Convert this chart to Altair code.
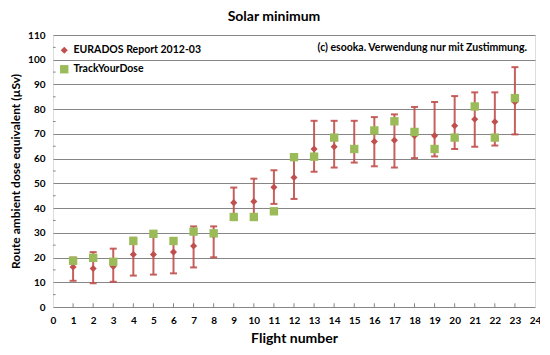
import altair as alt
import pandas as pd

flights = list(range(1, 24))
eurados = [16.2, 15.6, 16.4, 21.2, 21.2, 22.2, 24.7, 29.0, 42.2, 42.7, 48.4, 52.4,
           63.9, 64.8, 64.0, 66.9, 67.4, 69.3, 69.3, 73.3, 75.9, 74.9, 82.9]
eur_low = [10.6, 9.6, 10.2, 12.7, 13.1, 13.6, 16.0, 20.1, 35.2, 37.3, 41.7, 43.7,
           54.7, 56.4, 58.4, 56.9, 56.4, 60.2, 60.9, 63.9, 64.8, 65.3, 69.8]
eur_high = [20.0, 22.2, 23.6, 28.0, 29.5, 27.0, 32.6, 32.6, 48.3, 51.9, 55.3, 60.5,
            75.3, 75.3, 75.3, 76.8, 77.9, 80.9, 82.9, 85.3, 86.8, 86.8, 97.0]
tyd = [18.7, 19.9, 18.3, 26.7, 29.6, 26.7, 30.5, 29.8, 36.4, 36.4, 38.7, 60.6,
       60.8, 68.5, 63.9, 71.4, 75.1, 70.8, 63.9, 68.5, 81.1, 68.5, 84.5]

series_names = ["EURADOS Report 2012-03", "TrackYourDose"]
x_ticks = list(range(0, 25))
y_ticks = list(range(0, 111, 10))
y_minor = list(range(5, 110, 10))

RED = "#C0504D"
GREEN = "#9BBB59"
GRID = "#868686"
FONT = "Lato"

df = pd.DataFrame({"flight": flights, "eur": eurados, "low": eur_low,
                   "high": eur_high, "tyd": tyd})
pts = pd.DataFrame(
    [{"flight": f, "series": series_names[0], "v": e} for f, e in zip(flights, eurados)]
    + [{"flight": f, "series": series_names[1], "v": t} for f, t in zip(flights, tyd)]
)
tick_df = pd.DataFrame({"flight": x_ticks[1:-1], "y0": [0] * 23, "y1": [1.5] * 23})
ymin_df = pd.DataFrame({"y": y_minor, "x0": [0] * len(y_minor), "x1": [0.13] * len(y_minor)})

xsc = alt.Scale(domain=[0, 24], nice=False, zero=False)
ysc = alt.Scale(domain=[0, 110], nice=False)

xaxis = alt.Axis(values=x_ticks, grid=False, ticks=False, domain=False,
                 labelFont=FONT, labelFontWeight="bold", labelFontSize=10,
                 labelColor="#000", labelPadding=8, labelOverlap=False,
                 labelFlush=False,
                 title="Flight number", titleFont=FONT, titleFontSize=14,
                 titleFontWeight="bold", titleColor="#000", titlePadding=6)
yaxis = alt.Axis(values=y_ticks, grid=True, gridColor=GRID, gridWidth=1,
                 ticks=False, domain=False, labelOverlap=False, labelFlush=False,
                 labelFont=FONT, labelFontWeight="bold", labelFontSize=10,
                 labelColor="#000", labelPadding=8,
                 title="Route ambient dose equivalent (µSv)", titleFont=FONT,
                 titleFontSize=12, titleFontWeight="bold", titleColor="#000",
                 titlePadding=5)


def X(field):
    return alt.X(field, type="quantitative", scale=xsc, axis=xaxis)


def Y(field):
    return alt.Y(field, type="quantitative", scale=ysc, axis=yaxis)


xt = alt.Chart(tick_df).mark_rule(color=GRID, strokeWidth=1).encode(
    x=X("flight"), y=Y("y0"), y2="y1:Q"
)
yt = alt.Chart(ymin_df).mark_rule(color=GRID, strokeWidth=1).encode(
    y=Y("y"), x=X("x0"), x2="x1:Q"
)

bars = alt.Chart(df).mark_rule(color=RED, strokeWidth=2, opacity=0.9).encode(
    x=X("flight"), y=Y("low"), y2="high:Q"
)
cap_lo = alt.Chart(df).mark_tick(color=RED, thickness=2, size=7,
                                 orient="horizontal", opacity=0.9).encode(
    x=X("flight"), y=Y("low")
)
cap_hi = alt.Chart(df).mark_tick(color=RED, thickness=2, size=7,
                                 orient="horizontal", opacity=0.9).encode(
    x=X("flight"), y=Y("high")
)

points = alt.Chart(pts).mark_point(filled=True, opacity=1).encode(
    x=X("flight"),
    y=Y("v"),
    color=alt.Color("series:N",
                    scale=alt.Scale(domain=series_names, range=[RED, GREEN]),
                    legend=alt.Legend(title=None, orient="none", legendX=6, legendY=10,
                                      labelFont=FONT, labelFontSize=10.5,
                                      labelFontWeight="bold", labelColor="#000",
                                      rowPadding=8, symbolSize=55, labelOffset=4,
                                      symbolStrokeWidth=0)),
    shape=alt.Shape("series:N",
                    scale=alt.Scale(domain=series_names, range=["diamond", "square"])),
    size=alt.Size("series:N",
                  scale=alt.Scale(domain=series_names, range=[50, 70]),
                  legend=None),
    order=alt.Order("series:N"),
)

note = alt.Chart(pd.DataFrame({"t": ["(c) esooka. Verwendung nur mit Zustimmung."]})).mark_text(
    align="right", baseline="middle", font=FONT, fontSize=10.5, fontWeight="bold",
    color="#000"
).encode(x=alt.value(474), y=alt.value(13), text="t:N")

chart = alt.layer(xt, yt, bars, cap_lo, cap_hi, points, note).properties(
    width=482, height=272,
    title=alt.TitleParams("Solar minimum", font=FONT, fontSize=14, fontWeight="bold",
                          color="#000", anchor="middle", dx=-20, offset=6),
    autosize=alt.AutoSizeParams(type="none"),
    padding={"left": 45, "top": 27, "right": 5, "bottom": 40},
).configure_view(stroke=GRID, strokeWidth=1.5).configure(background="white")

chart.save("out.html", embed_options={"renderer": "svg", "actions": False})
